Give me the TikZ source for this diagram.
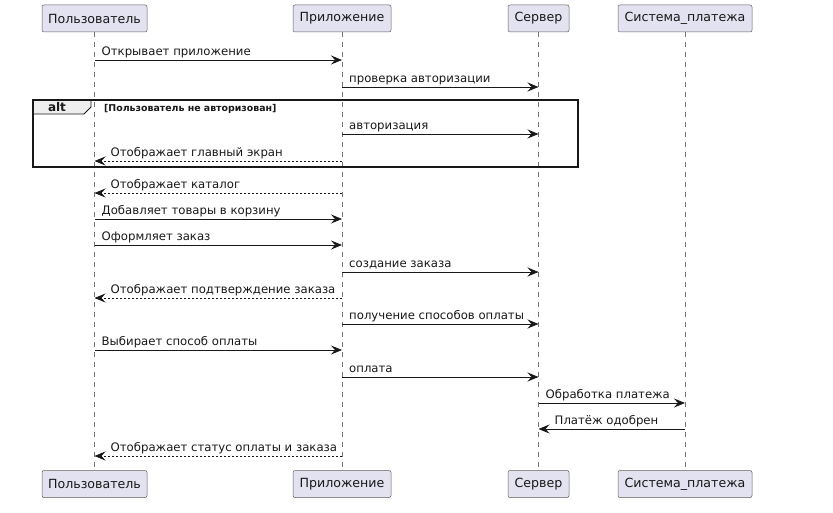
\documentclass[tikz,border=0pt]{standalone}
\usepackage{fontspec}
\setmainfont{DejaVu Sans}
\usetikzlibrary{arrows.meta}
\definecolor{partfill}{RGB}{226,226,240}
\definecolor{ink}{RGB}{24,24,24}
\definecolor{tabfill}{RGB}{238,238,238}
\begin{document}
\begin{tikzpicture}[x=1pt,y=-1pt,
  part/.style={draw=ink!70, line width=0.5pt, fill=partfill, rounded corners=2pt,
    minimum height=27pt, inner xsep=0pt, font=\fontsize{12.6}{15}\selectfont, text=ink},
  life/.style={draw=ink!60, line width=0.5pt, dash pattern=on 5pt off 5pt},
  msg/.style={draw=ink, line width=0.8pt, -{Stealth[length=11pt,width=9pt,inset=4pt]}},
  ret/.style={msg, dash pattern=on 2pt off 2pt},
  lbl/.style={font=\fontsize{11.7}{14}\selectfont, inner sep=0pt, anchor=base west, text=ink},
  cond/.style={font=\bfseries\fontsize{9.4}{11}\selectfont, inner sep=0pt, anchor=base west, text=ink},
]
\useasboundingbox (0,0) rectangle (833,513);

% participants
\node[part, minimum width=105pt] (pU) at (94.5,18.5) {Пользователь};
\node[part, minimum width=98pt]  (pA) at (342,18.5) {Приложение};
\node[part, minimum width=61pt]  (pS) at (538.5,18.5) {Сервер};
\node[part, minimum width=134pt] (pP) at (685,18.5) {Система\_платежа};
\node[part, minimum width=105pt] (bU) at (94.5,484) {Пользователь};
\node[part, minimum width=98pt]  (bA) at (342,484) {Приложение};
\node[part, minimum width=61pt]  (bS) at (538.5,484) {Сервер};
\node[part, minimum width=134pt] (bP) at (685,484) {Система\_платежа};

\draw[life] (pU) -- (bU);
\draw[life] (pA) -- (bA);
\draw[life] (pS) -- (bS);
\draw[life] (pP) -- (bP);

% alt fragment
\draw[draw=ink, fill=tabfill, line width=0.8pt] (33,100) -- (91,100) -- (91,107) -- (84,114) -- (33,114) -- cycle;
\node[font=\bfseries\fontsize{12}{14}\selectfont, text=ink, inner sep=0pt, anchor=base] (altlbl) at (57,112) {alt};
\node[cond] (altcond) at (104,112) {[Пользователь не авторизован]};
\draw[draw=ink, line width=1.3pt] (33,100) rectangle (578,167);

% messages
\newcommand{\lr}[5]{%
  \draw[#4] (#1 |- 0,#3) -- (#2 |- 0,#3);
  \path (#1 |- 0,#3) ++(7,-4.5) node[lbl] {#5};}
\newcommand{\rl}[5]{%
  \draw[#4] (#1 |- 0,#3) -- (#2 |- 0,#3);
  \path (#2 |- 0,#3) ++(16,-4.5) node[lbl] {#5};}

\lr{pU}{pA}{60}{msg}{Открывает приложение}
\lr{pA}{pS}{87}{msg}{проверка авторизации}
\lr{pA}{pS}{134}{msg}{авторизация}
\rl{pA}{pU}{161}{ret}{Отображает главный экран}
\rl{pA}{pU}{193}{ret}{Отображает каталог}
\lr{pU}{pA}{219}{msg}{Добавляет товары в корзину}
\lr{pU}{pA}{245}{msg}{Оформляет заказ}
\lr{pA}{pS}{272}{msg}{создание заказа}
\rl{pA}{pU}{298}{ret}{Отображает подтверждение заказа}
\lr{pA}{pS}{324}{msg}{получение способов оплаты}
\lr{pU}{pA}{350}{msg}{Выбирает способ оплаты}
\lr{pA}{pS}{377}{msg}{оплата}
\lr{pS}{pP}{403}{msg}{Обработка платежа}
\rl{pP}{pS}{429}{msg}{Платёж одобрен}
\rl{pA}{pU}{456}{ret}{Отображает статус оплаты и заказа}
\end{tikzpicture}
\end{document}
